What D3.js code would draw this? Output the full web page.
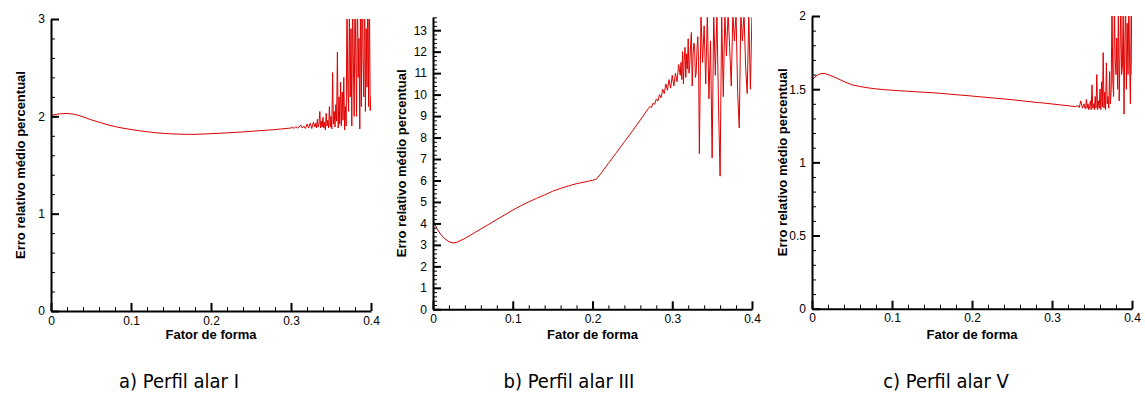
<!DOCTYPE html>
<html>
<head>
<meta charset="utf-8">
<script src="https://cdn.jsdelivr.net/npm/d3@7"></script>
<style>
  html, body { margin: 0; padding: 0; background: #fff; }
  svg { display: block; }
  .tick text { font-family: "Liberation Sans", Arial, sans-serif; font-size: 12px; fill: #000; }
  .axis-title { font-family: "Liberation Sans", Arial, sans-serif; font-size: 13px; font-weight: bold; fill: #000; }
  .caption { font-family: "DejaVu Sans Condensed", "DejaVu Sans", sans-serif; font-stretch: condensed; font-size: 20px; fill: #000; }
</style>
</head>
<body>
<svg id="chart" width="1145" height="399"></svg>
<script>
// ---- Perfil alar I ----
const fatorI = [
  0, 0.01, 0.02, 0.03, 0.04, 0.05, 0.06, 0.07, 0.08, 0.09,
  0.10, 0.11, 0.12, 0.13, 0.14, 0.15, 0.16, 0.17, 0.18, 0.19,
  0.20, 0.21, 0.22, 0.23, 0.24, 0.25, 0.26, 0.27, 0.28, 0.29,
  0.300, 0.302, 0.304, 0.306, 0.308, 0.310, 0.312, 0.314, 0.316, 0.318,
  0.320, 0.322, 0.324, 0.326, 0.328,
  0.330, 0.331, 0.332, 0.333, 0.334, 0.335, 0.336, 0.337, 0.338, 0.339,
  0.340, 0.341, 0.342, 0.343, 0.344, 0.345, 0.346, 0.347, 0.348, 0.349,
  0.350, 0.351, 0.352, 0.353, 0.354, 0.355, 0.356, 0.357, 0.358, 0.359,
  0.360, 0.361, 0.362, 0.363, 0.364, 0.365, 0.366, 0.367, 0.368, 0.369,
  0.370, 0.371, 0.372, 0.373, 0.374, 0.375, 0.376, 0.377, 0.378, 0.379,
  0.380, 0.381, 0.382, 0.383, 0.384, 0.385, 0.386, 0.387, 0.388, 0.389,
  0.390, 0.391, 0.392, 0.393, 0.394, 0.395, 0.396, 0.397, 0.398, 0.399, 0.400
];
const erroI = [
  2.01, 2.025, 2.03, 2.02, 1.995, 1.965, 1.94, 1.915, 1.895, 1.878,
  1.865, 1.852, 1.842, 1.832, 1.825, 1.82, 1.817, 1.815, 1.815, 1.818,
  1.822, 1.826, 1.83, 1.835, 1.84, 1.846, 1.852, 1.858, 1.864, 1.872,
  1.88, 1.89, 1.875, 1.895, 1.88, 1.89, 1.91, 1.88, 1.90, 1.875,
  1.92, 1.88, 1.93, 1.875, 1.94,
  1.89, 1.93, 1.88, 1.97, 1.89, 1.92, 2.05, 1.88, 1.95, 1.89,
  1.99, 1.88, 1.94, 1.86, 2.03, 1.90, 1.96, 1.88, 2.10, 1.89,
  2.0, 1.87, 2.45, 1.92, 2.05, 1.89, 2.12, 1.95, 2.66, 1.88,
  2.2, 1.92, 2.35, 1.90, 2.25, 1.96, 2.4, 1.86, 2.1, 1.9,
  3.2, 2.3, 2.05, 3.1, 2.2, 2.9, 1.9, 3.3, 2.5, 2.0,
  3.3, 2.6, 2.0, 3.4, 2.4, 2.8, 1.87, 3.3, 2.1, 3.5,
  2.6, 2.2, 3.4, 2.05, 2.9, 2.3, 3.4, 2.1, 3.3, 2.06, 2.2
];

// ---- Perfil alar III ----
const fatorIII = [
  0, 0.005, 0.01, 0.015, 0.02, 0.025, 0.03, 0.04, 0.05, 0.06,
  0.07, 0.08, 0.09, 0.10, 0.11, 0.12, 0.13, 0.14, 0.15, 0.16,
  0.17, 0.18, 0.19, 0.20, 0.205, 0.21, 0.22, 0.23, 0.24, 0.25,
  0.26, 0.270, 0.272, 0.274, 0.276, 0.278,
  0.280, 0.282, 0.284, 0.286, 0.288, 0.290, 0.292, 0.294, 0.296, 0.298,
  0.300, 0.302, 0.304, 0.306, 0.308, 0.310, 0.311, 0.312, 0.313, 0.314,
  0.315, 0.316, 0.317, 0.318, 0.319, 0.320, 0.321, 0.322, 0.323, 0.324,
  0.325, 0.326, 0.327, 0.328, 0.329, 0.330, 0.331, 0.332, 0.333, 0.334,
  0.336, 0.338,
  0.340, 0.342, 0.344, 0.346, 0.348, 0.350, 0.352, 0.354, 0.356, 0.358,
  0.360, 0.362, 0.364, 0.366, 0.368, 0.370, 0.372, 0.374, 0.376, 0.378,
  0.380, 0.382, 0.384, 0.386, 0.388, 0.390, 0.392, 0.394, 0.396, 0.398, 0.400
];
const erroIII = [
  4.16, 3.75, 3.47, 3.28, 3.15, 3.09, 3.12, 3.3, 3.52, 3.74,
  3.96, 4.18, 4.40, 4.62, 4.82, 5.0, 5.17, 5.33, 5.5, 5.63,
  5.75, 5.85, 5.93, 6.01, 6.07, 6.3, 6.8, 7.3, 7.8, 8.3,
  8.82, 9.35, 9.45, 9.40, 9.6, 9.55,
  9.8, 9.7, 10.0, 9.85, 10.25, 10.05, 10.5, 10.2, 10.7, 10.3,
  10.9, 10.4, 11.0, 10.6, 11.4, 10.9, 11.5, 10.7, 12.0, 10.5,
  11.6, 12.2, 10.8, 11.9, 11.2, 12.6, 11.0, 11.4, 12.3, 12.9,
  10.4, 11.8, 12.4, 12.3, 10.8, 11.0, 12.1, 12.7, 11.6, 7.25,
  13.8, 11.5,
  13.2, 10.5, 13.8, 9.8, 12.5, 7.05, 13.8, 10.9, 13.8, 9.5,
  6.2, 13.8, 9.9, 13.8, 11.8, 13.8, 12.2, 10.4, 13.8, 12.5,
  13.8, 10.1, 8.45, 13.8, 12.5, 13.8, 11.3, 10.05, 13.8, 10.25, 13.8
];

// ---- Perfil alar V ----
const fatorV = [
  0, 0.005, 0.01, 0.015, 0.02, 0.03, 0.04, 0.05, 0.06, 0.07,
  0.08, 0.09, 0.10, 0.11, 0.12, 0.13, 0.14, 0.15, 0.16, 0.17,
  0.18, 0.19, 0.20, 0.21, 0.22, 0.23, 0.24, 0.25, 0.26, 0.27,
  0.28, 0.29, 0.30, 0.31, 0.32,
  0.330, 0.332, 0.334, 0.336, 0.338,
  0.340, 0.341, 0.342, 0.343, 0.344, 0.345, 0.346, 0.347, 0.348, 0.349,
  0.350, 0.351, 0.352, 0.353, 0.354, 0.355, 0.356, 0.357, 0.358, 0.359,
  0.360, 0.361, 0.362, 0.363, 0.364, 0.365, 0.366, 0.367, 0.368, 0.369,
  0.370, 0.371, 0.372, 0.373, 0.374, 0.375, 0.376, 0.377, 0.378, 0.379,
  0.380, 0.381, 0.382, 0.383, 0.384, 0.385, 0.386, 0.387, 0.388, 0.389,
  0.390, 0.391, 0.392, 0.393, 0.394, 0.395, 0.396, 0.397, 0.398, 0.399, 0.400
];
const erroV = [
  1.563, 1.59, 1.605, 1.608, 1.6, 1.578, 1.552, 1.53, 1.518, 1.509,
  1.502, 1.497, 1.493, 1.489, 1.486, 1.482, 1.479, 1.476, 1.472, 1.467,
  1.462, 1.458, 1.453, 1.448, 1.443, 1.438, 1.433, 1.428, 1.422, 1.416,
  1.41, 1.405, 1.399, 1.393, 1.387,
  1.38, 1.39, 1.375, 1.42, 1.37,
  1.40, 1.37, 1.365, 1.43, 1.37, 1.40, 1.36, 1.38, 1.42, 1.36,
  1.53, 1.37, 1.40, 1.36, 1.45, 1.37, 1.60, 1.36, 1.42, 1.37,
  1.50, 1.36, 1.55, 1.38, 1.75, 1.37, 1.48, 1.36, 1.68, 1.40,
  1.45, 1.37, 1.62, 1.40, 1.50, 2.1, 1.55, 1.45, 2.1, 1.7,
  1.6, 1.85, 1.5, 2.1, 1.42, 1.75, 2.1, 1.6, 1.65, 2.1,
  1.33, 1.8, 2.1, 1.5, 1.95, 1.6, 2.1, 1.7, 1.40, 2.1, 1.6
];

// ---- axes: ranges and tick labels ----
const xTicks = [0, 0.1, 0.2, 0.3, 0.4];
const xTickLabels = ["0", "0.1", "0.2", "0.3", "0.4"];
const yTicksI = [0, 1, 2, 3];
const yTickLabelsI = ["0", "1", "2", "3"];
const yTicksIII = [0, 1, 2, 3, 4, 5, 6, 7, 8, 9, 10, 11, 12, 13];
const yTickLabelsIII = ["0", "1", "2", "3", "4", "5", "6", "7", "8", "9", "10", "11", "12", "13"];
const yTicksV = [0, 0.5, 1, 1.5, 2];
const yTickLabelsV = ["0", "0.5", "1", "1.5", "2"];
const yMaxI = 3, yMaxIII = 13.6, yMaxV = 2;

const xTitle = "Fator de forma";
const yTitle = "Erro relativo médio percentual";
const captions = ["a) Perfil alar I", "b) Perfil alar III", "c) Perfil alar V"];

const panels = [
  { x: fatorI, y: erroI, yMax: yMaxI, yTicks: yTicksI, yLabels: yTickLabelsI, yMinorStep: 0.2,
    box: { left: 51, right: 371, top: 19, bottom: 311 }, yTitleX: 20, captionX: 179 },
  { x: fatorIII, y: erroIII, yMax: yMaxIII, yTicks: yTicksIII, yLabels: yTickLabelsIII, yMinorStep: 0.2,
    box: { left: 433, right: 752, top: 17.3, bottom: 309.3 }, yTitleX: 401, captionX: 569 },
  { x: fatorV, y: erroV, yMax: yMaxV, yTicks: yTicksV, yLabels: yTickLabelsV, yMinorStep: 0.1,
    box: { left: 812, right: 1132, top: 16, bottom: 308.7 }, yTitleX: 782, captionX: 946 }
];

const svg = d3.select("#chart");

panels.forEach((p, i) => {
  const b = p.box;
  const x = d3.scaleLinear().domain([0, 0.4]).range([b.left, b.right]);
  const y = d3.scaleLinear().domain([0, p.yMax]).range([b.bottom, b.top]);

  const clipId = "clip" + i;
  svg.append("clipPath").attr("id", clipId)
    .append("rect")
    .attr("x", b.left).attr("y", b.top)
    .attr("width", b.right - b.left).attr("height", b.bottom - b.top);

  // data curve
  const pts = p.x.map((v, k) => [v, p.y[k]]);
  svg.append("path")
    .datum(pts)
    .attr("clip-path", `url(#${clipId})`)
    .attr("fill", "none")
    .attr("stroke", "#e00000")
    .attr("stroke-width", 1)
    .attr("d", d3.line().x(d => x(d[0])).y(d => y(d[1])));

  // minor ticks
  const xMinor = d3.range(0, 0.4001, 0.02);
  const yMinor = d3.range(0, p.yMax + 1e-9, p.yMinorStep);
  svg.append("g")
    .attr("transform", `translate(0,${b.bottom})`)
    .call(d3.axisBottom(x).tickValues(xMinor).tickSize(-4).tickFormat(""))
    .call(g => g.select(".domain").remove())
    .call(g => g.selectAll("line").attr("stroke", "#000").attr("stroke-width", 1));
  svg.append("g")
    .attr("transform", `translate(${b.left},0)`)
    .call(d3.axisLeft(y).tickValues(yMinor).tickSize(-4).tickFormat(""))
    .call(g => g.select(".domain").remove())
    .call(g => g.selectAll("line").attr("stroke", "#000").attr("stroke-width", 1));

  // major ticks with labels
  svg.append("g")
    .attr("transform", `translate(0,${b.bottom})`)
    .call(d3.axisBottom(x).tickValues(xTicks).tickSize(-8).tickSizeOuter(0).tickPadding(5)
      .tickFormat((d, k) => xTickLabels[k]))
    .call(g => g.select(".domain").attr("stroke", "#000").attr("stroke-width", 2))
    .call(g => g.selectAll(".tick line").attr("stroke", "#000").attr("stroke-width", 2))
    .call(g => g.attr("font-family", null).attr("font-size", null));
  svg.append("g")
    .attr("transform", `translate(${b.left},0)`)
    .call(d3.axisLeft(y).tickValues(p.yTicks).tickSize(-8).tickSizeOuter(0).tickPadding(6)
      .tickFormat((d, k) => p.yLabels[k]))
    .call(g => g.select(".domain").attr("stroke", "#000").attr("stroke-width", 2))
    .call(g => g.selectAll(".tick line").attr("stroke", "#000").attr("stroke-width", 2))
    .call(g => g.attr("font-family", null).attr("font-size", null));

  // axis titles
  svg.append("text").attr("class", "axis-title")
    .attr("x", (b.left + b.right) / 2).attr("y", 339)
    .attr("text-anchor", "middle").text(xTitle);
  svg.append("text").attr("class", "axis-title")
    .attr("transform", `translate(${p.yTitleX + 5},${(b.top + b.bottom) / 2}) rotate(-90)`)
    .attr("text-anchor", "middle").text(yTitle);

  // caption
  svg.append("text").attr("class", "caption")
    .attr("x", p.captionX).attr("y", 388)
    .attr("text-anchor", "middle").text(captions[i]);
});
</script>
</body>
</html>
